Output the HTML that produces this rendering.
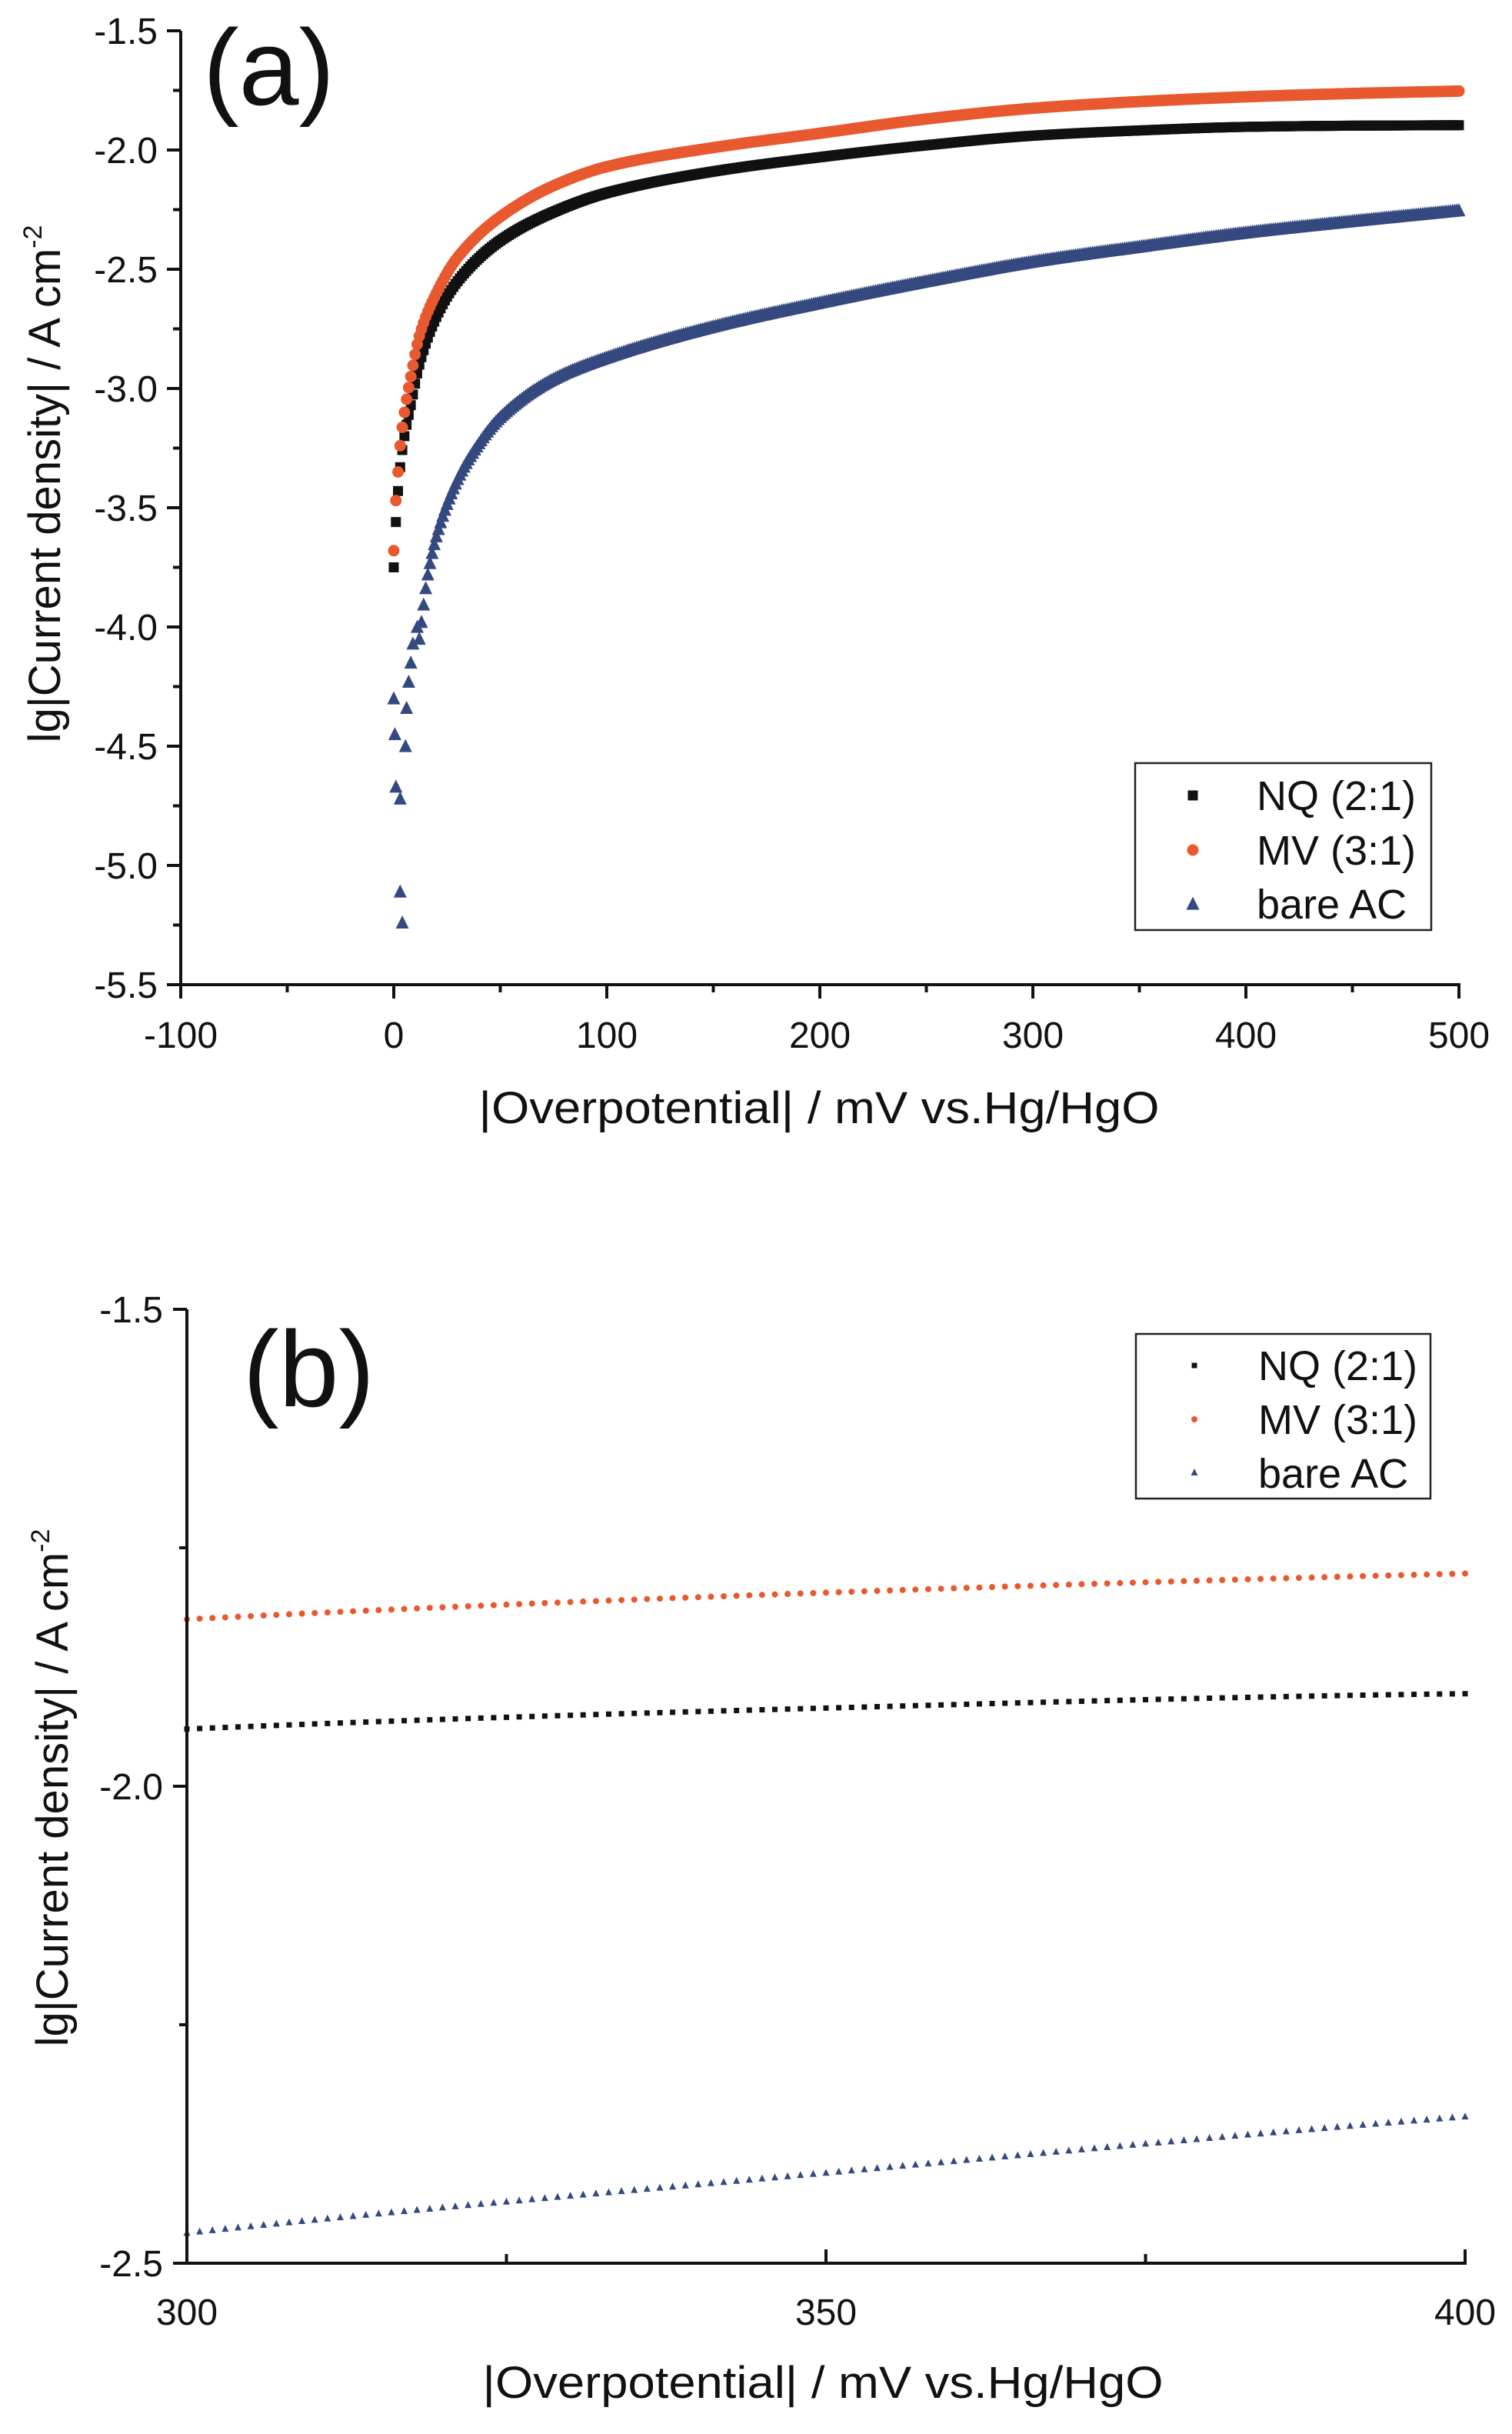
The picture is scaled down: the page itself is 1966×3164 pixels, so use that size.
<!DOCTYPE html>
<html><head><meta charset="utf-8"><style>
html,body{margin:0;padding:0;background:#fff;width:1966px;height:3164px;overflow:hidden;}
svg{display:block;}
text{font-family:"Liberation Sans",sans-serif;fill:#111;}
</style></head><body>
<svg id="s" width="1966" height="3164" viewBox="0 0 1966 3164" xmlns="http://www.w3.org/2000/svg">
<rect width="1966" height="3164" fill="#fff"/>
<g id="a"></g>
<g id="b"></g>
</svg>
<script>
const NS="http://www.w3.org/2000/svg";
function el(p,t,at,txt){const e=document.createElementNS(NS,t);for(const k in at)e.setAttribute(k,at[k]);if(txt!==undefined)e.textContent=txt;p.appendChild(e);return e;}
function pchip(an){const n=an.length,xs=an.map(p=>p[0]),ys=an.map(p=>p[1]);const h=[],d=[];for(let i=0;i<n-1;i++){h[i]=xs[i+1]-xs[i];d[i]=(ys[i+1]-ys[i])/h[i];}
const m=new Array(n);m[0]=d[0];m[n-1]=d[n-2];for(let i=1;i<n-1;i++){if(d[i-1]*d[i]<=0)m[i]=0;else{const w1=2*h[i]+h[i-1],w2=h[i]+2*h[i-1];m[i]=(w1+w2)/(w1/d[i-1]+w2/d[i]);}}
return function(x){let i=0;while(i<n-2&&x>xs[i+1])i++;const t=(x-xs[i])/h[i],t2=t*t,t3=t2*t;return (2*t3-3*t2+1)*ys[i]+(t3-2*t2+t)*h[i]*m[i]+(-2*t3+3*t2)*ys[i+1]+(t3-t2)*h[i]*m[i+1];};}
const NQ=pchip([[0,-3.75],[1,-3.56],[2,-3.43],[3,-3.33],[5,-3.2],[8,-3.07],[12,-2.9],[20,-2.7],[30,-2.55],[50,-2.38],[75,-2.26],[100,-2.18],[150,-2.09],[200,-2.03],[250,-1.98],[300,-1.94],[350,-1.918],[400,-1.903],[450,-1.898],[500,-1.896]]);
const MV=pchip([[0,-3.68],[1,-3.47],[2,-3.35],[3,-3.24],[5,-3.1],[8,-2.95],[12,-2.78],[20,-2.6],[30,-2.45],[50,-2.28],[75,-2.15],[100,-2.07],[150,-1.99],[200,-1.93],[250,-1.87],[300,-1.825],[350,-1.797],[400,-1.777],[450,-1.763],[500,-1.753]]);
const BA=pchip([[12,-4.05],[16,-3.78],[20,-3.62],[30,-3.38],[37,-3.27],[50,-3.12],[75,-2.96],[100,-2.87],[150,-2.74],[200,-2.64],[250,-2.55],[300,-2.468],[350,-2.405],[400,-2.346],[450,-2.298],[500,-2.253]]);
const scat=[[0,-4.3],[0.5,-4.45],[1,-4.67],[3,-5.11],[4,-5.24],[3,-4.72],[5.5,-4.5],[6,-4.34],[7,-4.23],[8,-4.15],[9,-4.07],[11,-4.0]];
const OR="#e8592f",NV="#34497f",BK="#111";
function sq(g,x,y,s,c){el(g,"rect",{x:x-s/2,y:y-s/2,width:s,height:s,fill:c});}
function ci(g,x,y,r,c){el(g,"circle",{cx:x,cy:y,r:r,fill:c});}
function tr(g,x,y,s,c){el(g,"polygon",{points:`${x},${y-s*0.55} ${x-s/2},${y+s*0.45} ${x+s/2},${y+s*0.45}`,fill:c});}

(function(){
const g=document.getElementById("a");
const X=x=>235+(x+100)*2.77, Y=y=>40+(-1.5-y)*310;
for(const p of scat)tr(g,X(p[0]),Y(p[1]),17,NV);
for(let x=12;x<=500;x+=1)tr(g,X(x),Y(BA(x)),17,NV);
for(let x=0;x<=500;x+=1)sq(g,X(x),Y(NQ(x)),13,BK);
for(let x=0;x<=500;x+=1)ci(g,X(x),Y(MV(x)),7.5,OR);
el(g,"line",{x1:235,y1:40,x2:235,y2:1281,stroke:BK,"stroke-width":4});
el(g,"line",{x1:233,y1:1280,x2:1899,y2:1280,stroke:BK,"stroke-width":4});
for(let i=0;i<=16;i++){const y=40+i*77.5;const maj=i%2==0;el(g,"line",{x1:235-(maj?18:10),y1:y,x2:235,y2:y,stroke:BK,"stroke-width":4});
 if(maj){el(g,"text",{x:205,y:y+17,"font-size":48,"text-anchor":"end"},(-1.5-i*0.25).toFixed(1));}}
for(let i=0;i<=12;i++){const x=235+i*138.5;const maj=i%2==0;el(g,"line",{x1:x,y1:1280,x2:x,y2:1280+(maj?18:10),stroke:BK,"stroke-width":4});
 if(maj){el(g,"text",{x:x,y:1362,"font-size":48,"text-anchor":"middle"},String(-100+i*50));}}
el(g,"text",{x:1065,y:1460,"font-size":58,"text-anchor":"middle",textLength:885,lengthAdjust:"spacingAndGlyphs"},"|Overpotential| / mV vs.Hg/HgO");
const t=el(g,"text",{transform:"translate(78,629) rotate(-90)","font-size":58,"text-anchor":"middle"});
t.innerHTML='<tspan>lg|Current density| / A cm</tspan><tspan dy="-24" font-size="34">-2</tspan>';
el(g,"text",{x:264,y:136,"font-size":140},"(a)");
el(g,"rect",{x:1476,y:992,width:385,height:217,fill:"none",stroke:"#222","stroke-width":2.5});
sq(g,1551,1034,13,BK);ci(g,1551,1105,7.5,OR);tr(g,1551,1175,17,NV);
el(g,"text",{x:1634,y:1053,"font-size":54},"NQ (2:1)");
el(g,"text",{x:1634,y:1124,"font-size":54},"MV (3:1)");
el(g,"text",{x:1634,y:1194,"font-size":54},"bare AC");
})();

(function(){
const g=document.getElementById("b");
const X=x=>243+(x-300)*16.62, Y=y=>1702+(-1.5-y)*1240;
for(let x=300;x<=400;x+=1)tr(g,X(x),Y(BA(x)),9,NV);
for(let x=300;x<=400;x+=1)sq(g,X(x),Y(NQ(x)),7,BK);
for(let x=300;x<=400;x+=1)ci(g,X(x),Y(MV(x)),4,OR);
el(g,"line",{x1:243,y1:1702,x2:243,y2:2943,stroke:BK,"stroke-width":4});
el(g,"line",{x1:241,y1:2942,x2:1907,y2:2942,stroke:BK,"stroke-width":4});
for(let i=0;i<=4;i++){const y=1702+i*310;const maj=i%2==0;el(g,"line",{x1:243-(maj?18:10),y1:y,x2:243,y2:y,stroke:BK,"stroke-width":4});
 if(maj)el(g,"text",{x:212,y:y+17,"font-size":48,"text-anchor":"end"},(-1.5-i*0.25).toFixed(1));}
for(let i=0;i<=4;i++){const x=243+i*415.5;const maj=i%2==0;el(g,"line",{x1:x,y1:2942,x2:x,y2:2942-(maj?18:12),stroke:BK,"stroke-width":4});
 if(maj)el(g,"text",{x:x,y:3022,"font-size":48,"text-anchor":"middle"},String(300+i*25));}
el(g,"text",{x:1070,y:3117,"font-size":58,"text-anchor":"middle",textLength:885,lengthAdjust:"spacingAndGlyphs"},"|Overpotential| / mV vs.Hg/HgO");
const t=el(g,"text",{transform:"translate(88,2324) rotate(-90)","font-size":58,"text-anchor":"middle"});
t.innerHTML='<tspan>lg|Current density| / A cm</tspan><tspan dy="-24" font-size="34">-2</tspan>';
el(g,"text",{x:316,y:1828,"font-size":140},"(b)");
el(g,"rect",{x:1477,y:1734,width:383,height:214,fill:"none",stroke:"#222","stroke-width":2.5});
sq(g,1553,1775,7,BK);ci(g,1553,1845,4,OR);tr(g,1553,1914,9,NV);
el(g,"text",{x:1636,y:1794,"font-size":54},"NQ (2:1)");
el(g,"text",{x:1636,y:1864,"font-size":54},"MV (3:1)");
el(g,"text",{x:1636,y:1934,"font-size":54},"bare AC");
})();
</script>
</body></html>
